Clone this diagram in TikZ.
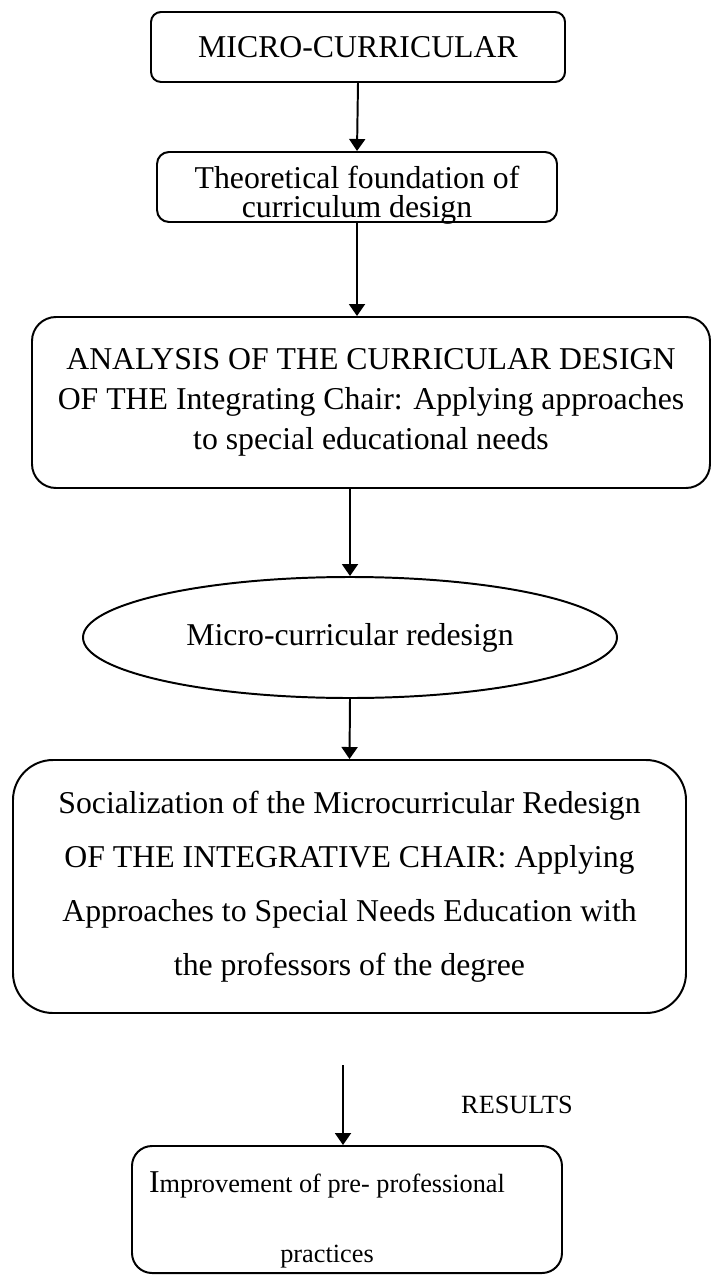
\documentclass[tikz,border=0pt]{standalone}
\usepackage{fontspec}
\setmainfont{Liberation Serif}
\usepackage{tikz}
\usetikzlibrary{arrows.meta,calc,positioning,shapes.geometric}
\tikzset{
  stage/.style={
    rectangle,
    draw=black,
    line width=1.4pt,
    rounded corners=3mm,
    align=center,
    inner sep=0pt,
    font=\fontsize{22.6}{27}\selectfont
  },
  redesignstage/.style={
    ellipse,
    draw=black,
    line width=1.4pt,
    inner sep=0pt,
    font=\fontsize{22.6}{27}\selectfont
  },
  flow/.style={
    line width=1.4pt,
    -{Triangle[length=3mm,width=4mm]}
  },
  tag/.style={
    font=\fontsize{18.7}{22}\selectfont
  }
}
% push a line down without changing the box size
\newcommand{\lowerline}[2]{\raisebox{-#1}[\height][\depth]{#2}}

\begin{document}
\begin{tikzpicture}
  % same page size as the reference
  \useasboundingbox (0,0) rectangle (17.775,-31.875);

  % Stages
  \node[stage, minimum width=10.35cm, minimum height=1.75cm, rounded corners=2.5mm]
    (micro) at (8.95,-1.175) {MICRO-CURRICULAR};
  \node[stage, minimum width=10cm, minimum height=1.75cm,
        font=\fontsize{22.6}{20.6}\selectfont]
    (theory) at (8.925,-4.675)
    {\lowerline{0.2cm}{Theoretical foundation of}\\\lowerline{0.2cm}{curriculum design}};
  \node[stage, minimum width=16.95cm, minimum height=4.275cm, rounded corners=6mm,
        font=\fontsize{22.6}{28.4}\selectfont]
    (analysis) at (9.275,-10.0625)
    {ANALYSIS OF THE CURRICULAR DESIGN\\OF THE Integrating Chair: Applying approaches\\to special educational needs};
  \node[redesignstage, minimum width=13.35cm, minimum height=3.025cm]
    (redesign) at (8.75,-15.9375) {Micro-curricular redesign};
  \node[stage, minimum width=16.825cm, minimum height=6.325cm, rounded corners=10mm,
        font=\fontsize{22.6}{38.4}\selectfont]
    (social) at (8.7375,-22.1625)
    {Socialization of the Microcurricular Redesign\\OF THE INTEGRATIVE CHAIR: Applying\\Approaches to Special Needs Education with\\the professors of the degree};
  \node[stage, minimum width=10.75cm, minimum height=3.175cm, rounded corners=5mm,
        font=\fontsize{18.7}{49.8}\selectfont]
    (improve) at (8.675,-30.2375)
    {\lowerline{0.27cm}{{\fontsize{22.6}{27}\selectfont I}mprovement of pre- professional}\hspace*{1cm}\\
     \lowerline{0.27cm}{practices}\hspace*{1cm}};

  \node[tag] (results) at (12.925,-27.625) {RESULTS};
  \coordinate (res-top) at (8.575,-26.625);

  % Connections
  \draw[flow] (micro.south) -- (theory.north);
  \draw[flow] (theory.south) -- (theory.south |- analysis.north);
  \draw[flow] (redesign.north |- analysis.south) -- (redesign.north);
  \draw[flow] (redesign.south) -- (social.north);
  \draw[flow] (res-top) -- (res-top |- improve.north);
\end{tikzpicture}
\end{document}
